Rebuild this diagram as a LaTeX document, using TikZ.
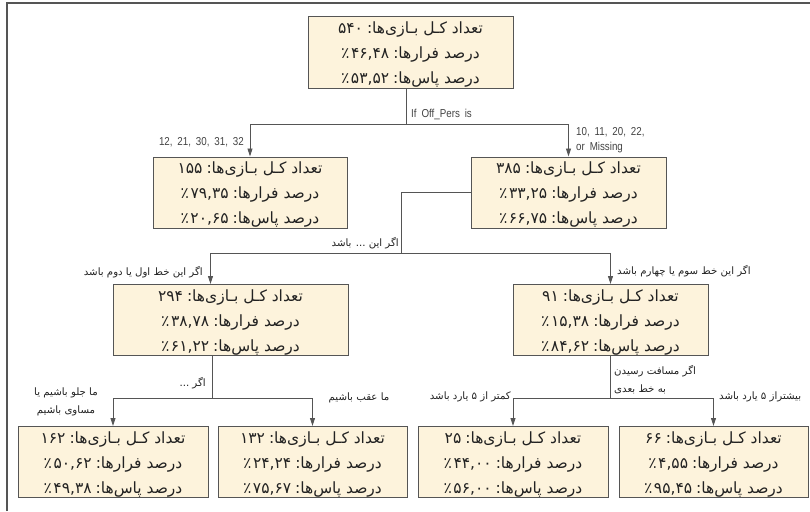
\documentclass[tikz,border=0pt]{standalone}
\usepackage{fontspec}
\usetikzlibrary{arrows.meta,calc}
\TeXXeTstate=1
\newfontfamily\arabicfont[Script=Arabic]{DejaVu Sans}
\newfontfamily\labelfont[FakeStretch=0.85,WordSpace=1.8]{Liberation Sans}
% right-to-left Persian text, and left-to-right numbers inside it
\newcommand{\fa}[1]{{\arabicfont\beginR #1\endR}}
\newcommand{\num}[1]{\beginL #1\endL{}}
\newcommand{\pct}[1]{\num{٪\kern1.5pt #1}}
% three centred lines, 25pt apart, in a box 62pt high above the last baseline
\newcommand{\threelines}[3]{\raisebox{0pt}[62pt][0pt]{\vbox{\baselineskip=25pt
  \halign{\hfil##\hfil\cr #1\cr #2\cr #3\cr}}}}
% statistics block of a tree node
\newcommand{\stats}[3]{\threelines
  {\fa{تعداد کـل بـازی‌ها:\kern4pt\num{#1}}}
  {\fa{درصد فرارها:\kern4pt\pct{#2}}}
  {\fa{درصد پاس‌ها:\kern4pt\pct{#3}}}}

\definecolor{boxfill}{HTML}{FDF3DC}
\definecolor{edge}{HTML}{555555}
\definecolor{ink}{HTML}{222222}

\tikzset{
  statbox/.style={draw=edge, line width=1pt, fill=boxfill, minimum width=#1,
    minimum height=71pt, inner sep=0pt, text=ink,
    font=\fontsize{15.5}{25}\selectfont},
  conn/.style={draw=edge, line width=0.9pt},
  arr/.style={conn, -{Triangle[length=8pt,width=5pt]}},
  farsi/.style={text=ink, inner sep=0pt, font=\fontsize{10.2}{18}\selectfont},
  latin/.style={text=ink!85, inner sep=0pt, align=left,
    font=\labelfont\fontsize{11.5}{15}\selectfont},
}

\begin{document}
\begin{tikzpicture}[x=1pt,y=-1pt]
\useasboundingbox (0,0) rectangle (810,511);

% frame
\draw[edge, line width=1.2pt] (7,511) -- (7,3) -- (810,3);

% tree nodes
\node[statbox=205pt] (n540) at (410.5,52.5) {\stats{۵۴۰}{۴۶,۴۸}{۵۳,۵۲}};
\node[statbox=194pt] (n155) at (250,192.5) {\stats{۱۵۵}{۷۹,۳۵}{۲۰,۶۵}};
\node[statbox=195pt] (n385) at (568.5,192.5) {\stats{۳۸۵}{۳۳,۲۵}{۶۶,۷۵}};
\node[statbox=235pt] (n294) at (230.5,320) {\stats{۲۹۴}{۳۸,۷۸}{۶۱,۲۲}};
\node[statbox=195pt] (n91) at (610.5,320) {\stats{۹۱}{۱۵,۳۸}{۸۴,۶۲}};
\node[statbox=190pt] (n162) at (113,462) {\stats{۱۶۲}{۵۰,۶۲}{۴۹,۳۸}};
\node[statbox=189pt] (n132) at (312.5,462) {\stats{۱۳۲}{۲۴,۲۴}{۷۵,۶۷}};
\node[statbox=190pt] (n25) at (513,462) {\stats{۲۵}{۴۴,۰۰}{۵۶,۰۰}};
\node[statbox=189pt] (n66) at (713.5,462) {\stats{۶۶}{۴,۵۵}{۹۵,۴۵}};

% connectors
\draw[conn] ($(n540.south)+(-4,0)$) -- ++(0,36) coordinate (j1);
\draw[arr] (j1) -| (n155.north);
\draw[arr] (j1) -| (n385.north);

\coordinate (j2) at (401,253);
\draw[conn] (n385.west) -| (j2);
\draw[arr] (j2) -| ($(n294.north west)+(98,0)$);
\draw[arr] (j2) -| (n91.north);

\draw[conn] ($(n294.south west)+(100,0)$) -- ++(0,42) coordinate (j3);
\draw[arr] (j3) -| (n162.north);
\draw[arr] (j3) -| (n132.north);

\draw[conn] (n91.south) -- ++(0,42) coordinate (j4);
\draw[arr] (j4) -| (n25.north);
\draw[arr] (j4) -| (n66.north);

% branch labels
\node[latin, anchor=west] (lcond) at (411,114) {If Off\_Pers is};
\node[latin, anchor=east] (lleft) at (244,142) {12, 21, 30, 31, 32};
\node[latin, anchor=west] (lright) at (576,140) {10, 11, 20, 22,\\or Missing};

\node[farsi, anchor=east] (lq1) at (399,243) {\fa{اگر این ... باشد}};
\node[farsi, anchor=east] (lq2) at (203,272) {\fa{اگر این خط اول یا دوم باشد}};
\node[farsi, anchor=west] (lq3) at (617,271) {\fa{اگر این خط سوم یا چهارم باشد}};
\node[farsi, anchor=east] (lq4) at (206,383) {\fa{اگر ...}};
\node[farsi, align=center] (lq5) at (66,402) {\fa{ما جلو باشیم  یا}\\\fa{مساوی باشیم}};
\node[farsi] (lq6) at (359,398) {\fa{ما عقب باشیم}};
\node[farsi, align=left, anchor=west] (lq7) at (614,380) {\fa{اگر مسافت رسیدن}\\\fa{به خط بعدی}};
\node[farsi, anchor=east] (lq8) at (511,397) {\fa{کمتر از ۵ یارد باشد}};
\node[farsi, anchor=west] (lq9) at (719,397) {\fa{بیشتراز ۵ یارد باشد}};
\end{tikzpicture}
\end{document}
